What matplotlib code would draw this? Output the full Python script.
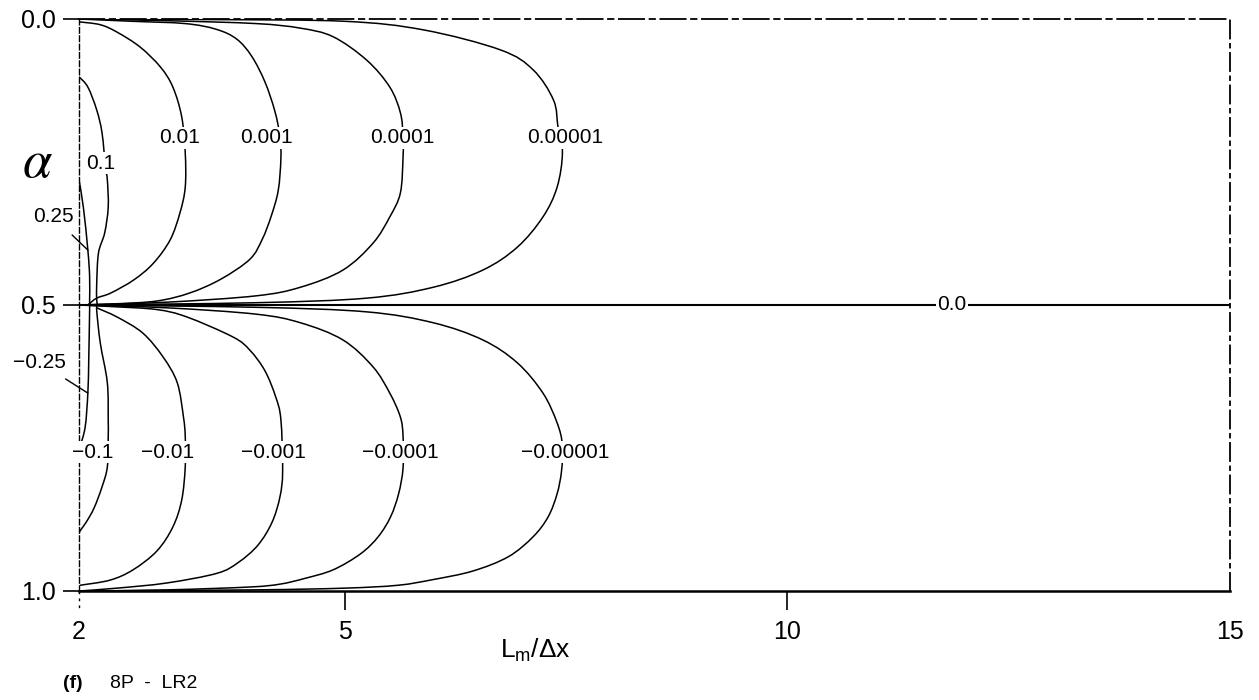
import matplotlib.pyplot as plt
from matplotlib.path import Path
from matplotlib.patches import PathPatch

plt.rcParams['font.family'] = ['Liberation Sans', 'DejaVu Sans']
plt.rcParams['mathtext.fontset'] = 'custom'
plt.rcParams['mathtext.rm'] = 'Liberation Sans'
plt.rcParams['mathtext.it'] = 'Liberation Sans:italic'

# ---- contour lines, (Lm/dx, alpha) ----
# upper half (positive levels)
p025_x = [2.00, 2.05, 2.10, 2.12, 2.12, 2.12]
p025_a = [0.281, 0.330, 0.404, 0.450, 0.491, 0.500]

p01_x = [2.00, 2.10, 2.20, 2.26, 2.30, 2.32, 2.33, 2.29, 2.22, 2.20, 2.20, 2.21]
p01_a = [0.101, 0.119, 0.159, 0.199, 0.260, 0.281, 0.329, 0.374, 0.409, 0.462, 0.491, 0.500]

p001_x = [2.00, 2.24, 2.43, 2.69, 2.92, 3.06, 3.16, 3.20, 3.20, 3.14, 3.03, 2.84, 2.62, 2.36, 2.20, 2.10]
p001_a = [0.005, 0.010, 0.023, 0.049, 0.084, 0.119, 0.171, 0.234, 0.294, 0.339, 0.386, 0.427, 0.456, 0.479, 0.488, 0.500]

p0001_x = [2.00, 2.60, 3.20, 3.55, 3.78, 3.95, 4.10, 4.21, 4.27, 4.28, 4.25, 4.17, 4.07, 3.93, 3.60, 3.25, 2.88, 2.40, 2.00]
p0001_a = [0.000, 0.004, 0.008, 0.018, 0.035, 0.065, 0.110, 0.160, 0.205, 0.245, 0.300, 0.345, 0.385, 0.420, 0.455, 0.479, 0.493, 0.498, 0.500]

p00001_x = [2.00, 3.00, 4.00, 4.50, 4.87, 5.25, 5.51, 5.63, 5.66, 5.66, 5.63, 5.51, 5.32, 4.98, 4.50, 4.00, 3.00, 2.00]
p00001_a = [0.000, 0.003, 0.008, 0.016, 0.031, 0.072, 0.119, 0.164, 0.205, 0.241, 0.304, 0.346, 0.392, 0.439, 0.469, 0.484, 0.495, 0.500]

p000001_x = [2.00, 3.50, 5.00, 5.89, 6.76, 7.13, 7.36, 7.41, 7.46, 7.40, 7.24, 6.95, 6.56, 6.00, 5.25, 4.00, 2.00]
p000001_a = [0.000, 0.001, 0.004, 0.019, 0.054, 0.089, 0.142, 0.189, 0.234, 0.294, 0.346, 0.399, 0.439, 0.469, 0.488, 0.496, 0.500]

# lower half (negative levels)
n025_x = [2.12, 2.12, 2.11, 2.10, 2.07, 2.01, 2.00]
n025_a = [0.500, 0.509, 0.596, 0.654, 0.713, 0.748, 0.750]

n01_x = [2.21, 2.20, 2.24, 2.32, 2.33, 2.33, 2.32, 2.26, 2.17, 2.08, 2.02, 2.00]
n01_a = [0.500, 0.509, 0.566, 0.636, 0.701, 0.730, 0.783, 0.818, 0.855, 0.880, 0.893, 0.899]

n001_x = [2.20, 2.43, 2.72, 2.95, 3.11, 3.18, 3.20, 3.20, 3.16, 3.06, 2.88, 2.61, 2.35, 2.01]
n001_a = [0.505, 0.521, 0.549, 0.591, 0.636, 0.696, 0.730, 0.783, 0.841, 0.888, 0.930, 0.963, 0.981, 0.990]

n0001_x = [2.00, 2.40, 2.88, 3.22, 3.74, 3.93, 4.10, 4.22, 4.28, 4.30, 4.27, 4.18, 4.02, 3.80, 3.56, 2.99, 2.43, 2.00]
n0001_a = [0.500, 0.503, 0.508, 0.521, 0.556, 0.579, 0.615, 0.660, 0.700, 0.790, 0.835, 0.880, 0.920, 0.950, 0.969, 0.986, 0.995, 1.000]

n00001_x = [2.00, 3.00, 4.00, 4.50, 4.98, 5.32, 5.51, 5.63, 5.66, 5.66, 5.61, 5.52, 5.38, 5.18, 4.87, 4.55, 4.27, 3.93, 3.00, 2.00]
n00001_a = [0.500, 0.505, 0.516, 0.531, 0.561, 0.608, 0.654, 0.696, 0.730, 0.785, 0.830, 0.870, 0.905, 0.935, 0.963, 0.978, 0.988, 0.993, 0.998, 1.000]

n000001_x = [2.00, 4.00, 5.25, 6.00, 6.56, 6.95, 7.24, 7.40, 7.46, 7.45, 7.40, 7.30, 7.13, 6.85, 6.45, 6.00, 5.60, 5.00, 4.00, 2.00]
n000001_a = [0.500, 0.504, 0.512, 0.531, 0.561, 0.601, 0.654, 0.706, 0.745, 0.790, 0.830, 0.870, 0.905, 0.940, 0.965, 0.980, 0.990, 0.995, 0.998, 1.000]

x_ticks = [2, 5, 10, 15]
y_ticks = [0.0, 0.5, 1.0]
y_ticklabels = ['0.0', '0.5', '1.0']


def smooth_line(ax, xs, ys, **kw):
    # Catmull-Rom through the points, handed to matplotlib as cubic Bezier segments
    pts = list(zip(xs, ys))
    ext = [pts[0]] + pts + [pts[-1]]
    verts = [pts[0]]
    codes = [Path.MOVETO]
    for i in range(1, len(ext) - 2):
        p0, p1, p2, p3 = ext[i - 1], ext[i], ext[i + 1], ext[i + 2]
        c1 = (p1[0] + (p2[0] - p0[0]) / 6, p1[1] + (p2[1] - p0[1]) / 6)
        c2 = (p2[0] - (p3[0] - p1[0]) / 6, p2[1] - (p3[1] - p1[1]) / 6)
        verts += [c1, c2, p2]
        codes += [Path.CURVE4] * 3
    ax.add_patch(PathPatch(Path(verts, codes), fill=False, **kw))


W, H = 1259, 700
fig = plt.figure(figsize=(W / 100, H / 100), dpi=100)
ax = fig.add_axes([79 / W, 1 - 591 / H, (1230 - 79) / W, (591 - 19) / H])

curves = [(p025_x, p025_a), (p01_x, p01_a), (p001_x, p001_a), (p0001_x, p0001_a),
          (p00001_x, p00001_a), (p000001_x, p000001_a),
          (n025_x, n025_a), (n01_x, n01_a), (n001_x, n001_a), (n0001_x, n0001_a),
          (n00001_x, n00001_a), (n000001_x, n000001_a)]
for cx, ca in curves:
    smooth_line(ax, cx, ca, edgecolor='black', lw=1.1, joinstyle='round')

# zero contour along alpha = 0.5
ax.axhline(0.5, color='black', lw=1.5)

# contour labels, white box cuts the line under the text
box = dict(facecolor='white', edgecolor='none', pad=1.0)
labels = [('0.1', 2.24, 0.252), ('0.01', 3.14, 0.208), ('0.001', 4.12, 0.208),
          ('0.0001', 5.65, 0.208), ('0.00001', 7.49, 0.208),
          ('\u22120.1', 2.16, 0.757), ('\u22120.01', 3.0, 0.757), ('\u22120.001', 4.2, 0.757),
          ('\u22120.0001', 5.63, 0.757), ('\u22120.00001', 7.49, 0.757),
          ('0.0', 11.86, 0.5)]
for txt, lx, la in labels:
    ax.text(lx, la, txt, fontsize=15, ha='center', va='center', bbox=box, zorder=5)

ax.annotate('0.25', xy=(2.10, 0.404), xytext=(1.71, 0.346), fontsize=15,
            ha='center', va='center', annotation_clip=False,
            arrowprops=dict(arrowstyle='-', color='black', lw=1.0, shrinkA=6, shrinkB=0))
ax.annotate('\u22120.25', xy=(2.10, 0.654), xytext=(1.55, 0.600), fontsize=15,
            ha='center', va='center', annotation_clip=False,
            arrowprops=dict(arrowstyle='-', color='black', lw=1.0, shrinkA=6, shrinkB=0))

ax.set_xlim(2, 15)
ax.set_ylim(1.0, 0.0)

ax.spines['bottom'].set_linewidth(1.8)
ax.spines['left'].set_linestyle((0, (4, 2)))
ax.spines['left'].set_linewidth(1.0)
ax.spines['top'].set_linestyle((0, (14, 3, 3, 3)))
ax.spines['top'].set_linewidth(1.3)
ax.spines['right'].set_linestyle((0, (10, 3, 2, 3)))
ax.spines['right'].set_linewidth(1.3)

ax.set_xticks(x_ticks)
ax.set_yticks(y_ticks)
ax.set_yticklabels(y_ticklabels)
ax.tick_params(axis='y', direction='out', length=11.5, width=1.2, pad=5, labelsize=18)
ax.tick_params(axis='x', direction='out', length=14, width=1.2, pad=7, labelsize=18)
xt = ax.xaxis.get_major_ticks()
xt[0].tick1line.set_visible(False)
xt[-1].tick1line.set_visible(False)
ax.plot([2, 2], [1.0, 1.035], color='black', lw=1.0, ls=(0, (2, 3)), clip_on=False)

fig.text(37 / W, 1 - 163 / H, r'$\alpha$', fontsize=38, math_fontfamily='stix',
         ha='center', va='center')
fig.text(535 / W, 1 - 650 / H, r'L$_{\mathrm{m}}$/$\Delta$x', fontsize=19,
         ha='center', va='center')
fig.text(63 / W, 1 - 683 / H, '(f)', fontsize=14, fontweight='bold', ha='left', va='center')
fig.text(110 / W, 1 - 683 / H, '8P  -  LR2', fontsize=14, ha='left', va='center')

fig.savefig('out.png', dpi=100)
